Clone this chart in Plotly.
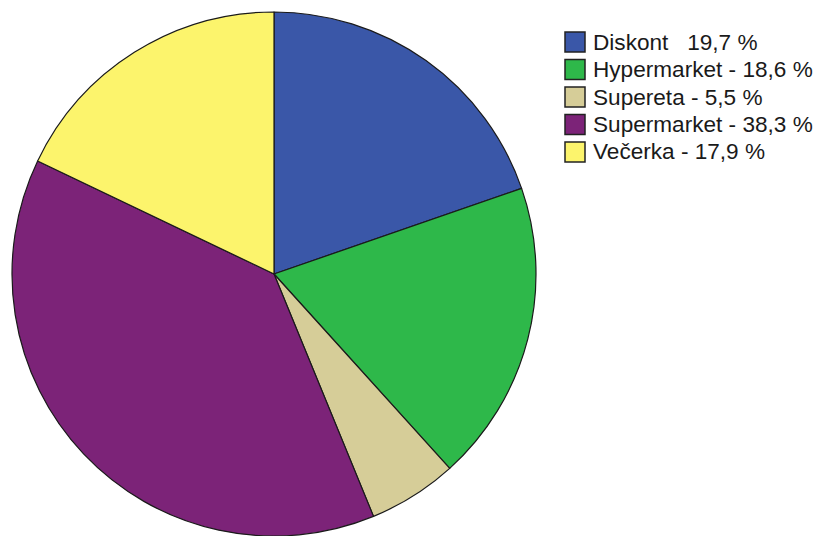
import plotly.graph_objects as go

# Shop types and their share of respondents (%)
categories = ["Diskont", "Hypermarket", "Supereta", "Supermarket", "Večerka"]
shares = [19.7, 18.6, 5.5, 38.3, 17.9]
legend_labels = [
    "Diskont\u00a0\u00a0\u00a019,7 %",
    "Hypermarket - 18,6 %",
    "Supereta - 5,5 %",
    "Supermarket - 38,3 %",
    "Večerka - 17,9 %",
]
colors = ["#3A57A8", "#2EB84A", "#D6CD98", "#7C2378", "#FCF46C"]

W, H = 816, 536

fig = go.Figure(
    go.Pie(
        labels=categories,
        values=shares,
        sort=False,
        direction="clockwise",
        rotation=0,
        marker=dict(colors=colors, line=dict(color="#1a1a1a", width=1.2)),
        textinfo="none",
        hoverinfo="label+percent",
        showlegend=False,
        domain=dict(x=[11 / W, 537 / W], y=[0, 524 / H]),
    )
)

# Legend drawn as swatches + text on the right
x0, y_first, step, box = 565, 42, 27.5, 20
shapes, annotations = [], []
for i, (lab, col) in enumerate(zip(legend_labels, colors)):
    yc = y_first + i * step
    shapes.append(dict(
        type="rect", xref="paper", yref="paper",
        x0=x0 / W, x1=(x0 + box) / W,
        y0=1 - (yc - box / 2) / H, y1=1 - (yc + box / 2) / H,
        fillcolor=col, line=dict(color="#222222", width=1.5),
    ))
    annotations.append(dict(
        xref="paper", yref="paper", x=(x0 + box + 6) / W, y=1 - yc / H,
        xanchor="left", yanchor="middle", showarrow=False,
        text=lab, font=dict(family="Liberation Sans, Arial, sans-serif", size=22.6, color="#1a1a1a"),
    ))

fig.update_layout(
    width=W, height=H,
    margin=dict(l=0, r=0, t=0, b=0),
    paper_bgcolor="white", plot_bgcolor="white",
    shapes=shapes, annotations=annotations,
)

fig.write_html("out.html")
